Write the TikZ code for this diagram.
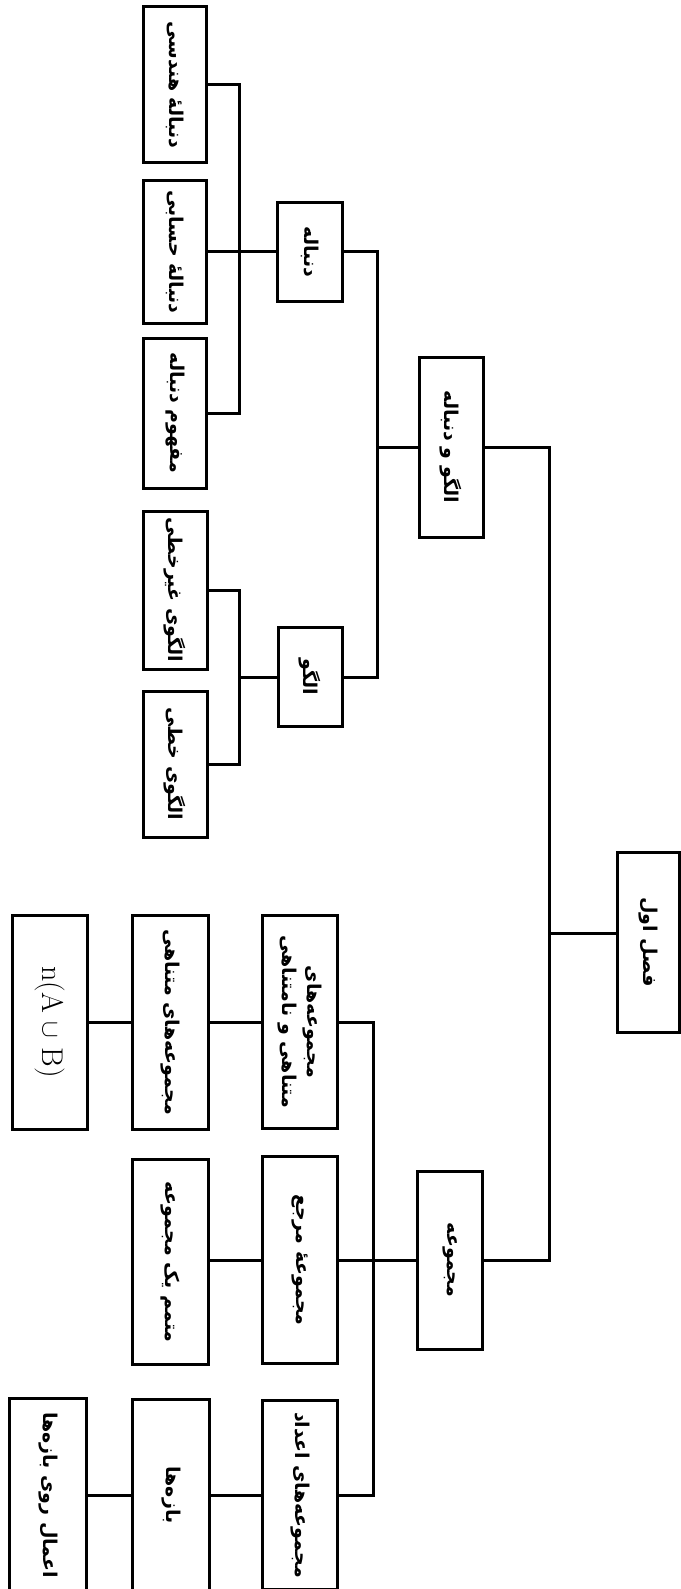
\documentclass[tikz,border=0pt]{standalone}
\usepackage{fontspec}
\usepackage{tikz}
\usetikzlibrary{calc}
\newfontfamily\farsi[Script=Arabic]{DejaVu Sans}
\TeXXeTstate=1
\def\fa#1{\beginR #1\endR}
\tikzset{
	box/.style={draw, line width=3pt, rotate=-90, inner sep=0pt, outer sep=0pt,
		align=center, font=\fontsize{19}{25}\selectfont\farsi\bfseries},
	link/.style={line width=3pt}
}

\begin{document}
\begin{tikzpicture}[x=1pt, y=-1pt]
		%%%%% START %%%%%
		\useasboundingbox (0, 0) rectangle (680, 1589);
		
		% bus lines
		\coordinate (busA) at (549, 0);
		\coordinate (busB) at (377, 0);
		\coordinate (busC) at (373, 0);
		\coordinate (busD) at (239, 0);
		
		\node[box, minimum width=180, minimum height=62] (root) at (648, 942) {\fa{فصل اول}};
		
		\node[box, minimum width=180, minimum height=64] (algdon) at (451, 447) {\fa{الگو و دنباله}};
		\node[box, minimum width=178, minimum height=65] (majm) at (450, 1260) {\fa{مجموعه}};
		
		\node[box, minimum width=99, minimum height=65] (don) at (310, 252) {\fa{دنباله}};
		\node[box, minimum width=99, minimum height=64] (algo) at (310, 677) {\fa{الگو}};
		\node[box, minimum width=213, minimum height=75] (motnamot) at (300, 1022) {\fa{مجموعه‌های}\\\fa{متناهی و نامتناهی}};
		\node[box, minimum width=207, minimum height=75] (marja) at (300, 1260) {\fa{مجموعهٔ مرجع}};
		\node[box, minimum width=189, minimum height=75] (adad) at (300, 1495) {\fa{مجموعه‌های اعداد}};
		
		\node[box, minimum width=156, minimum height=63] (donhan) at (175, 85) {\fa{دنبالهٔ هندسی}};
		\node[box, minimum width=143, minimum height=63] (donhes) at (175, 252) {\fa{دنبالهٔ حسابی}};
		\node[box, minimum width=150, minimum height=63] (mafhum) at (175, 413) {\fa{مفهوم دنباله}};
		\node[box, minimum width=158, minimum height=64] (gheir) at (175, 590) {\fa{الگوی غیرخطی}};
		\node[box, minimum width=146, minimum height=64] (khatti) at (175, 764) {\fa{الگوی خطی}};
		\node[box, minimum width=214, minimum height=76] (motanahi) at (170, 1022) {\fa{مجموعه‌های متناهی}};
		\node[box, minimum width=205, minimum height=76] (motammam) at (170, 1262) {\fa{متمم یک مجموعه}};
		\node[box, minimum width=191, minimum height=77] (baze) at (171, 1495) {\fa{بازه‌ها}};
		
		\node[box, minimum width=214, minimum height=75, font=\fontsize{30}{34}\selectfont\rmfamily] (nAB) at (50, 1022) {n(A $\cup$ B)};
		\node[box, minimum width=194, minimum height=77] (amal) at (48, 1495) {\fa{اعمال روی بازه‌ها}};
		
		% level 1
		\draw[link] ($(root.south)+(0,-9)$) -- ($(busA |- root.south)+(0,-9)$);
		\draw[link] (algdon.north) -| (busA |- majm.north) -- (majm.north);
		
		% level 2
		\draw[link] (algdon.south) -- (busB |- algdon.south);
		\draw[link] (don.north) -| (busB |- algo.north) -- (algo.north);
		\draw[link] (majm.south) -- (majm.south -| marja.north);
		\draw[link] (motnamot.north) -| (busC |- adad.north) -- (adad.north);
		
		% level 3
		\draw[link] (don.south) -- (don.south -| donhes.north);
		\draw[link] (donhan.north) -| (busD |- mafhum.north) -- (mafhum.north);
		\draw[link] (algo.south) -- (busD |- algo.south);
		\draw[link] (gheir.north) -| (busD |- khatti.north) -- (khatti.north);
		\draw[link] (motnamot.south) -- (motanahi.north);
		\draw[link] (marja.south) -- (marja.south -| motammam.north);
		\draw[link] (adad.south) -- (baze.north);
		
		% level 4
		\draw[link] (motanahi.south) -- (nAB.north);
		\draw[link] (baze.south) -- (amal.north);
		%%%%% END %%%%%
	\end{tikzpicture}
\end{document}
